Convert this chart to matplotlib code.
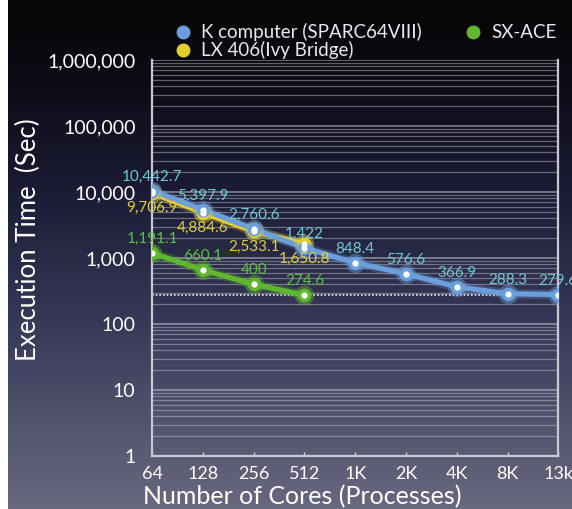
import numpy as np
import matplotlib
matplotlib.use('Agg')
import matplotlib.pyplot as plt
from matplotlib.lines import Line2D
from matplotlib.colors import LinearSegmentedColormap
from matplotlib.ticker import FixedLocator, NullFormatter

plt.rcParams['font.family'] = ['Lato', 'DejaVu Sans']

# ── data ──────────────────────────────────────────────────────────────────────
cores       = ['64', '128', '256', '512', '1K', '2K', '4K', '8K', '13k']
k_computer  = [10442.7, 5397.9, 2760.6, 1422, 848.4, 576.6, 366.9, 288.3, 279.6]
k_labels    = ['10,442.7', '5,397.9', '2,760.6', '1,422', '848.4', '576.6',
               '366.9', '288.3', '279.6']
lx406       = [9706.9, 4884.6, 2533.1, 1650.8]
lx_labels   = ['9,706.9', '4,884.6', '2,533.1', '1,650.8']
sx_ace      = [1191.1, 660.1, 400, 274.6]
sx_labels   = ['1,191.1', '660.1', '400', '274.6']
y_ticks     = [1, 10, 100, 1000, 10000, 100000, 1000000]
y_ticklabels = ['1', '10', '100', '1,000', '10,000', '100,000', '1,000,000']

BLUE, YELLOW, GREEN = '#6a9fdc', '#e6cf2c', '#5fb730'
BLUE_TXT, YELLOW_TXT, GREEN_TXT = '#6fc9d2', '#dfcf3a', '#5cc13c'

fig = plt.figure(figsize=(5.72, 5.09), dpi=100)

# background gradient (black at top -> slate at bottom), white strip at left
bg = fig.add_axes([0, 0, 1, 1], zorder=-10)
cmap = LinearSegmentedColormap.from_list(
    'bg', [(0, '#68697f'), (0.35, '#3a3b5a'), (0.6, '#1d1e38'), (0.85, '#0b0b14'), (1, '#060606')])
grad = np.linspace(0, 1, 256).reshape(-1, 1)
bg.imshow(grad, aspect='auto', cmap=cmap, origin='lower', extent=[0.014, 1, 0, 1])
bg.set_xlim(0, 1)
bg.set_ylim(0, 1)
bg.axis('off')

ax = fig.add_axes([0.266, 0.104, 0.710, 0.778])
ax.set_facecolor('none')
ax.set_yscale('log')
ax.set_ylim(1, 1e6)
ax.set_xlim(0, len(cores) - 1)

x_all = np.arange(len(cores))
x_sub = np.arange(len(lx406))

# grid lines at every log step
minor = [m * 10**e for e in range(0, 6) for m in range(2, 10)]
for v in minor:
    ax.axhline(v, color='#c9c9d6', lw=0.9, alpha=0.45, zorder=1)
for v in y_ticks[1:]:
    ax.axhline(v, color='#d0d0da', lw=1.1, alpha=0.6, zorder=1)
ax.axhline(k_computer[-1], color='white', lw=1.2, ls=(0, (1, 1.2)), alpha=0.9, zorder=2)

def draw_series(x, y, color):
    ax.plot(x, y, color=color, lw=7, alpha=0.25, solid_capstyle='round', zorder=3)
    ax.plot(x, y, color=color, lw=3.8, solid_capstyle='round', zorder=4)
    ax.plot(x, y, 'o', ms=13, color=color, alpha=0.35, zorder=5)
    ax.plot(x, y, 'o', ms=10, color=color, markeredgewidth=0, zorder=6)
    ax.plot(x, y, 'o', ms=4.5, color='white', markeredgewidth=0, zorder=7)

draw_series(x_sub, lx406, YELLOW)
draw_series(x_all, k_computer, BLUE)
draw_series(x_sub, sx_ace, GREEN)

for xi, yi, s in zip(x_all, k_computer, k_labels):
    ax.annotate(s, (xi, yi), xytext=(0, 5), textcoords='offset points',
                ha='center', va='bottom', color=BLUE_TXT, fontsize=11, zorder=8)
for xi, yi, s in zip(x_sub, lx406, lx_labels):
    ax.annotate(s, (xi, yi), xytext=(0, -6), textcoords='offset points',
                ha='center', va='top', color=YELLOW_TXT, fontsize=11, zorder=8)
for xi, yi, s in zip(x_sub, sx_ace, sx_labels):
    ax.annotate(s, (xi, yi), xytext=(0, 5), textcoords='offset points',
                ha='center', va='bottom', color=GREEN_TXT, fontsize=11, zorder=8)

# axes styling
ax.set_yticks(y_ticks)
ax.set_yticklabels(y_ticklabels)
ax.yaxis.set_minor_locator(FixedLocator([]))
ax.yaxis.set_minor_formatter(NullFormatter())
ax.tick_params(axis='y', length=0, pad=12, labelsize=14, labelcolor='white')
ax.set_xticks(x_all)
ax.set_xticklabels(cores)
ax.tick_params(axis='x', direction='in', length=3, width=1, color='#d8d8e0',
               pad=7, labelsize=13, labelcolor='white')
for side in ['left', 'bottom', 'right']:
    ax.spines[side].set_color('#c8c8d2')
    ax.spines[side].set_linewidth(1.6)
ax.spines['top'].set_visible(False)

fig.text(143 / 572, 1 - 497 / 509, 'Number of Cores (Processes)', color='white',
         fontsize=18, ha='left', va='center')
fig.text(28 / 572, 1 - 240 / 509, 'Execution Time  (Sec)', color='white',
         fontsize=18.5, ha='center', va='center', rotation=90)

def legend_handle(color, label):
    return Line2D([0], [0], marker='o', ls='none', ms=9, color=color,
                  markerfacecolor=color, markeredgecolor=color, label=label)

handles = [legend_handle(BLUE, 'K computer (SPARC64VIII)'),
           legend_handle(YELLOW, 'LX 406(Ivy Bridge)'),
           legend_handle(GREEN, 'SX-ACE')]
leg = fig.legend(handles=handles, ncol=2, loc='upper left',
                 bbox_to_anchor=(0.28, 0.98), frameon=False, fontsize=13.5,
                 labelcolor='#e8e8ee', handletextpad=0.5, columnspacing=2.2,
                 labelspacing=0.0, handlelength=1.0, borderpad=0.2)

fig.savefig('out.png', dpi=100)
